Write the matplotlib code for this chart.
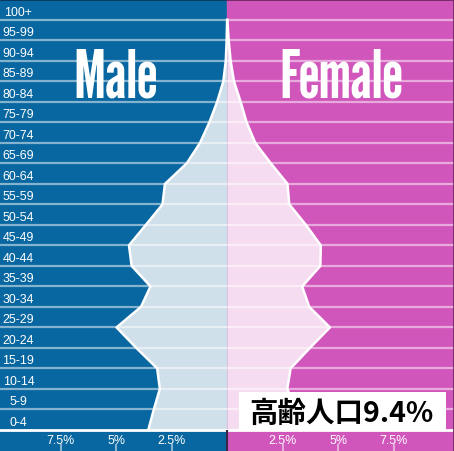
import matplotlib
matplotlib.use('Agg')
import matplotlib.pyplot as plt
from matplotlib.patches import Rectangle

# 年齢階級 (下から上へ)
age_groups = ['0-4', '5-9', '10-14', '15-19', '20-24', '25-29', '30-34', '35-39',
              '40-44', '45-49', '50-54', '55-59', '60-64', '65-69', '70-74',
              '75-79', '80-84', '85-89', '90-94', '95-99', '100+']
# 人口比率 (%)
male = [3.55, 3.30, 3.03, 3.15, 4.09, 4.98, 3.88, 3.45, 4.30, 4.42, 3.66,
        2.91, 2.80, 1.82, 1.22, 0.80, 0.45, 0.17, 0.06, 0.02, 0.0]
female = [3.38, 3.12, 2.71, 2.86, 3.73, 4.63, 3.70, 3.38, 4.20, 4.22, 3.55,
          2.80, 2.72, 1.97, 1.27, 0.88, 0.61, 0.31, 0.16, 0.07, 0.01]
tick_vals = [-7.5, -5, -2.5, 2.5, 5, 7.5]
tick_labels = ['7.5%', '5%', '2.5%', '2.5%', '5%', '7.5%']
note = '高齢人口9.4%'

MALE_BG = '#0867a0'
FEMALE_BG = '#d156bc'
MALE_FILL = '#cfe0eb'
FEMALE_FILL = '#f6dcf0'

fig = plt.figure(figsize=(4.54, 4.52), dpi=100)
ax = fig.add_axes([0, 0, 1, 1])
xmin, xmax = -10.23, 10.22
ymin, ymax = -1.03, 21.02
ax.set_xlim(xmin, xmax)
ax.set_ylim(ymin, ymax)
ax.axis('off')

# 背景
ax.axvspan(xmin, 0, color=MALE_BG, zorder=0)
ax.axvspan(0, xmax, color=FEMALE_BG, zorder=0)

y = list(range(len(age_groups)))
neg_male = [-v for v in male]

ax.fill_betweenx(y, neg_male, 0, color=MALE_FILL, lw=0, zorder=1)
ax.fill_betweenx(y, 0, female, color=FEMALE_FILL, lw=0, zorder=1)

# 横線
for yy in y[1:]:
    ax.axhline(yy, color='white', alpha=0.5, lw=1.6, zorder=2)
ax.axhline(0, color='white', lw=2, zorder=4)

ax.plot(neg_male, y, color='white', lw=1.8, zorder=3)
ax.plot(female, y, color='white', lw=1.8, zorder=3)

# 枠線
ax.axhline(ymax, xmin=0, xmax=0.5, color='#0a3558', lw=2, zorder=5)
ax.axhline(ymax, xmin=0.5, xmax=1, color='#6e2a63', lw=2, zorder=5)
ax.axvline(xmax, color='#6e2a63', lw=2, zorder=5)
ax.vlines(0, ymin, 0, color='#3a2448', lw=1.5, zorder=5)

# 年齢ラベル
for i, lab in enumerate(age_groups):
    ax.text(-9.40, i + 0.39, lab, ha='center', va='center', color='white',
            fontsize=8.9, family=['Liberation Sans', 'DejaVu Sans'], zorder=6)

# x軸目盛
for v, lab in zip(tick_vals, tick_labels):
    ax.text(v, -0.47, lab, ha='center', va='center', color='white',
            fontsize=8.9, family=['Liberation Sans', 'DejaVu Sans'], zorder=6)
ax.vlines(tick_vals, ymin, -0.68, color='white', alpha=0.5, lw=1.5, zorder=5)

# タイトル
title_font = ['League Gothic', 'DejaVu Sans']
ax.text(-5.01, 16.28, 'Male', ha='center', va='baseline', color='white',
        fontsize=48, family=title_font, weight='bold', zorder=6)
ax.text(5.13, 16.28, 'Female', ha='center', va='baseline', color='white',
        fontsize=48, family=title_font, weight='bold', zorder=6)

# 注記
ax.add_patch(Rectangle((0.545, 0.015), 9.86 - 0.545, 1.85 - 0.015,
                       facecolor='white', edgecolor='none', zorder=7))
ax.text(5.15, 0.85, note, ha='center', va='center', color='black',
        fontsize=20.5, weight='bold',
        family=['Noto Sans CJK JP', 'DejaVu Sans'], zorder=8)

fig.savefig('out.png', dpi=100)
